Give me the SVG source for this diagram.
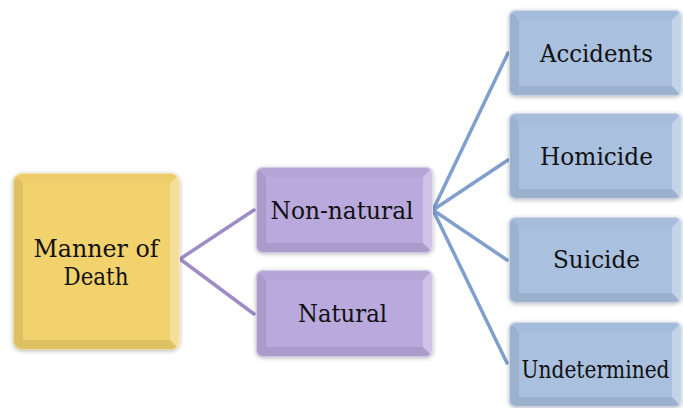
<svg xmlns="http://www.w3.org/2000/svg" width="683" height="408" viewBox="0 0 683 408">
<defs>
<filter id="sh" x="-10%" y="-10%" width="120%" height="120%">
<feDropShadow dx="0" dy="1" stdDeviation="2" flood-color="#000" flood-opacity="0.28"/>
</filter>
<clipPath id="c0"><rect x="13" y="173" width="167" height="177" rx="9"/></clipPath>
<clipPath id="c1"><rect x="256" y="167" width="177" height="86" rx="7"/></clipPath>
<clipPath id="c2"><rect x="256" y="270" width="177" height="87" rx="7"/></clipPath>
<clipPath id="c3"><rect x="509" y="10" width="173" height="86" rx="7"/></clipPath>
<clipPath id="c4"><rect x="509" y="113" width="173" height="86" rx="7"/></clipPath>
<clipPath id="c5"><rect x="509" y="217" width="173" height="86" rx="7"/></clipPath>
<clipPath id="c6"><rect x="509" y="322" width="173" height="85" rx="7"/></clipPath>
</defs>
<style>
.y{fill:#F1D26C}
.p{fill:#B9A9DC}
.b{fill:#A9C0DF}
.bt{fill:#000;fill-opacity:0.02}
.bl{fill:#000;fill-opacity:0.08}
.br{fill:#fff;fill-opacity:0.3}
.bb{fill:#000;fill-opacity:0.08}
.edge{fill:none;stroke:#fff;stroke-opacity:0.45;stroke-width:1}
.t{font-family:'DejaVu Serif','Liberation Serif',serif;font-size:25px;fill:#111;text-anchor:middle}
.cp{stroke:#9E8BC7;stroke-width:3.5;fill:none;stroke-linecap:round}
.cb{stroke:#809FCD;stroke-width:3.5;fill:none;stroke-linecap:round}
</style>
<g id="connectors">
<path class="cp" d="M180 259 L254 210 M180 259 L254 314"/>
<path class="cb" d="M433 210 L508 53 M433 210 L508 160 M433 210 L507 260 M433 210 L507 363"/>
</g>
<g id="n0">
<rect class="y" x="13" y="173" width="167" height="177" rx="9" filter="url(#sh)"/>
<g clip-path="url(#c0)">
<polygon class="bt" points="13,173 180,173 170,183 23,183"/>
<polygon class="bl" points="13,173 23,183 23,340 13,350"/>
<polygon class="br" points="180,173 180,350 170,340 170,183"/>
<polygon class="bb" points="13,350 23,340 170,340 180,350"/>
</g>
<rect class="edge" x="13.5" y="173.5" width="166" height="176" rx="9"/>
<text class="t" x="96" y="257" textLength="125" lengthAdjust="spacingAndGlyphs">Manner of</text>
<text class="t" x="96" y="285" textLength="65" lengthAdjust="spacingAndGlyphs">Death</text>
</g>
<g id="n1">
<rect class="p" x="256" y="167" width="177" height="86" rx="7" filter="url(#sh)"/>
<g clip-path="url(#c1)">
<polygon class="bt" points="256,167 433,167 423,177 266,177"/>
<polygon class="bl" points="256,167 266,177 266,243 256,253"/>
<polygon class="br" points="433,167 433,253 423,243 423,177"/>
<polygon class="bb" points="256,253 266,243 423,243 433,253"/>
</g>
<rect class="edge" x="256.5" y="167.5" width="176" height="85" rx="7"/>
<text class="t" x="342" y="219" textLength="143" lengthAdjust="spacingAndGlyphs">Non-natural</text>
</g>
<g id="n2">
<rect class="p" x="256" y="270" width="177" height="87" rx="7" filter="url(#sh)"/>
<g clip-path="url(#c2)">
<polygon class="bt" points="256,270 433,270 423,280 266,280"/>
<polygon class="bl" points="256,270 266,280 266,347 256,357"/>
<polygon class="br" points="433,270 433,357 423,347 423,280"/>
<polygon class="bb" points="256,357 266,347 423,347 433,357"/>
</g>
<rect class="edge" x="256.5" y="270.5" width="176" height="86" rx="7"/>
<text class="t" x="342.5" y="322" textLength="89" lengthAdjust="spacingAndGlyphs">Natural</text>
</g>
<g id="n3">
<rect class="b" x="509" y="10" width="173" height="86" rx="7" filter="url(#sh)"/>
<g clip-path="url(#c3)">
<polygon class="bt" points="509,10 682,10 672,20 519,20"/>
<polygon class="bl" points="509,10 519,20 519,86 509,96"/>
<polygon class="br" points="682,10 682,96 672,86 672,20"/>
<polygon class="bb" points="509,96 519,86 672,86 682,96"/>
</g>
<rect class="edge" x="509.5" y="10.5" width="172" height="85" rx="7"/>
<text class="t" x="596.5" y="62" textLength="113" lengthAdjust="spacingAndGlyphs">Accidents</text>
</g>
<g id="n4">
<rect class="b" x="509" y="113" width="173" height="86" rx="7" filter="url(#sh)"/>
<g clip-path="url(#c4)">
<polygon class="bt" points="509,113 682,113 672,123 519,123"/>
<polygon class="bl" points="509,113 519,123 519,189 509,199"/>
<polygon class="br" points="682,113 682,199 672,189 672,123"/>
<polygon class="bb" points="509,199 519,189 672,189 682,199"/>
</g>
<rect class="edge" x="509.5" y="113.5" width="172" height="85" rx="7"/>
<text class="t" x="596.5" y="165" textLength="113" lengthAdjust="spacingAndGlyphs">Homicide</text>
</g>
<g id="n5">
<rect class="b" x="509" y="217" width="173" height="86" rx="7" filter="url(#sh)"/>
<g clip-path="url(#c5)">
<polygon class="bt" points="509,217 682,217 672,227 519,227"/>
<polygon class="bl" points="509,217 519,227 519,293 509,303"/>
<polygon class="br" points="682,217 682,303 672,293 672,227"/>
<polygon class="bb" points="509,303 519,293 672,293 682,303"/>
</g>
<rect class="edge" x="509.5" y="217.5" width="172" height="85" rx="7"/>
<text class="t" x="596.5" y="268" textLength="87" lengthAdjust="spacingAndGlyphs">Suicide</text>
</g>
<g id="n6">
<rect class="b" x="509" y="322" width="173" height="85" rx="7" filter="url(#sh)"/>
<g clip-path="url(#c6)">
<polygon class="bt" points="509,322 682,322 672,332 519,332"/>
<polygon class="bl" points="509,322 519,332 519,397 509,407"/>
<polygon class="br" points="682,322 682,407 672,397 672,332"/>
<polygon class="bb" points="509,407 519,397 672,397 682,407"/>
</g>
<rect class="edge" x="509.5" y="322.5" width="172" height="84" rx="7"/>
<text class="t" x="595.5" y="378" font-size="24" style="font-size:24px" textLength="148" lengthAdjust="spacingAndGlyphs">Undetermined</text>
</g>
</svg>
